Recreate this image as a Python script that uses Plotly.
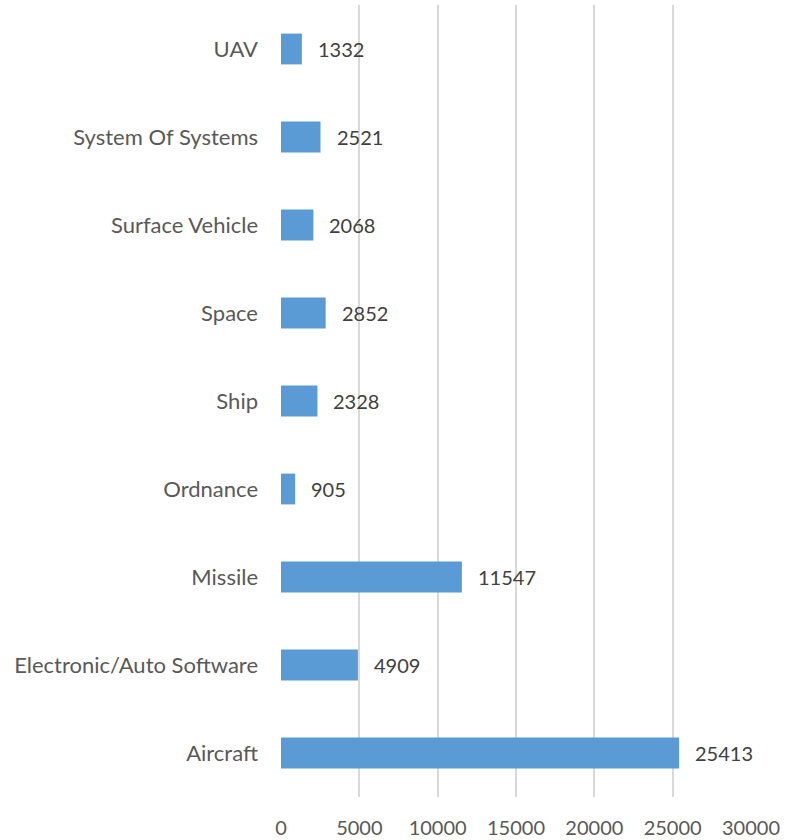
import plotly.graph_objects as go

categories = ["Aircraft", "Electronic/Auto Software", "Missile", "Ordnance", "Ship",
              "Space", "Surface Vehicle", "System Of Systems", "UAV"]
values = [25413, 4909, 11547, 905, 2328, 2852, 2068, 2521, 1332]
x_ticks = [0, 5000, 10000, 15000, 20000, 25000, 30000]

FONT = "Lato"
BAR = "#5B9BD5"
GRID = "#D9D9D9"

fig = go.Figure(go.Bar(
    y=categories, x=values, orientation="h",
    marker=dict(color=BAR, line=dict(width=0)),
    hoverinfo="skip",
))

# value labels just right of each bar end
for c, v in zip(categories, values):
    fig.add_annotation(x=v, y=c, text=str(v), showarrow=False,
                       xanchor="left", xshift=14,
                       font=dict(family=FONT, size=20, color="#404040"))

fig.update_layout(
    width=796, height=840,
    margin=dict(l=281, r=45, t=5, b=43),
    paper_bgcolor="white", plot_bgcolor="white",
    bargap=0.65, showlegend=False,
    font=dict(family=FONT, size=20, color="#595959"),
)
fig.update_xaxes(range=[0, 30000], tickvals=x_ticks, ticktext=[str(t) for t in x_ticks],
                 showgrid=True, gridcolor=GRID, gridwidth=1.5,
                 zeroline=False, showline=False, ticks="",
                 tickfont=dict(size=20), ticklabelstandoff=17, automargin=False)
fig.update_yaxes(categoryorder="array", categoryarray=categories,
                 showgrid=False, zeroline=False, showline=False, ticks="",
                 tickfont=dict(size=22), ticklabelstandoff=22, automargin=False)

fig.write_html("out.html")
